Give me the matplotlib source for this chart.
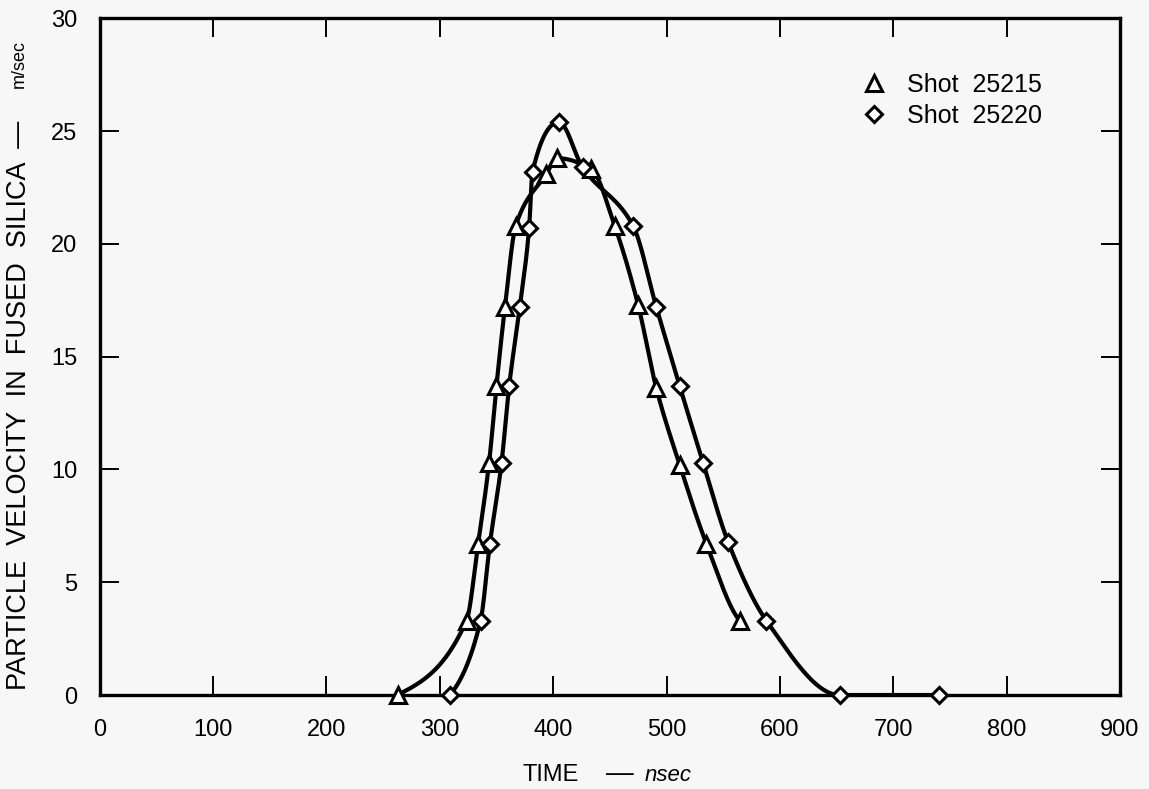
import numpy as np
import matplotlib
matplotlib.use("Agg")
import matplotlib.pyplot as plt
from matplotlib.lines import Line2D

# Shot 25215 (triangles)
t_25215 = [263, 323.6, 333.8, 343.5, 350, 357.5, 367, 394, 403.5, 433.8,
           454.3, 474.9, 491, 511.6, 535.2, 564.5]
v_25215 = [0, 3.3, 6.7, 10.3, 13.7, 17.2, 20.8, 23.1, 23.8, 23.3,
           20.8, 17.3, 13.6, 10.2, 6.7, 3.3]

# Shot 25220 (diamonds)
t_25220 = [309, 336, 344.2, 354.5, 361.2, 370.6, 378.8, 381.8, 405.2, 425.9,
           470.5, 491, 511.6, 532.2, 554.2, 588, 652.7, 740]
v_25220 = [0, 3.3, 6.7, 10.3, 13.7, 17.2, 20.7, 23.2, 25.4, 23.4,
           20.8, 17.2, 13.7, 10.3, 6.8, 3.3, 0, 0]

x_ticks = [0, 100, 200, 300, 400, 500, 600, 700, 800, 900]
y_ticks = [0, 5, 10, 15, 20, 25, 30]


def pchip(x, y, n=600):
    # monotone cubic (Fritsch-Carlson) just to draw a smooth line through the points
    x = np.asarray(x, float)
    y = np.asarray(y, float)
    h = np.diff(x)
    d = np.diff(y) / h
    m = np.zeros_like(y)
    for k in range(1, len(x) - 1):
        if d[k - 1] * d[k] > 0:
            w1 = 2 * h[k] + h[k - 1]
            w2 = h[k] + 2 * h[k - 1]
            m[k] = (w1 + w2) / (w1 / d[k - 1] + w2 / d[k])
    m[0] = d[0] * 0.5
    m[-1] = d[-1] * 0.5
    xs = np.linspace(x[0], x[-1], n)
    idx = np.clip(np.searchsorted(x, xs) - 1, 0, len(x) - 2)
    t = (xs - x[idx]) / h[idx]
    h00 = 2 * t**3 - 3 * t**2 + 1
    h10 = t**3 - 2 * t**2 + t
    h01 = -2 * t**3 + 3 * t**2
    h11 = t**3 - t**2
    ys = h00 * y[idx] + h10 * h[idx] * m[idx] + h01 * y[idx + 1] + h11 * h[idx] * m[idx + 1]
    return xs, ys


plt.rcParams['font.family'] = ['Liberation Sans', 'DejaVu Sans']
bg = '#f7f7f7'

fig = plt.figure(figsize=(11.49, 7.89), dpi=100, facecolor=bg)
ax = fig.add_axes([0.0867, 0.1191, 0.8881, 0.8577], facecolor=bg)

# curves
xs, ys = pchip(t_25215, v_25215)
ax.plot(xs, ys, color='black', lw=3.0, zorder=2, solid_capstyle='round')
xs, ys = pchip(t_25220, v_25220)
ax.plot(xs, ys, color='black', lw=3.0, zorder=2, solid_capstyle='round')

# markers
ax.plot(t_25215, v_25215, ls='none', marker='^', ms=12, mfc='white',
        mec='black', mew=2.2, zorder=3, clip_on=False)
ax.plot(t_25220, v_25220, ls='none', marker='D', ms=8, mfc='white',
        mec='black', mew=2.2, zorder=3, clip_on=False)

ax.set_xlim(0, 900)
ax.set_ylim(0, 30)
ax.set_xticks(x_ticks)
ax.set_yticks(y_ticks)
ax.tick_params(direction='in', length=14, width=1.4, top=True, right=True,
               labelsize=17, color='black')
ax.tick_params(axis='x', pad=17)
ax.tick_params(axis='y', pad=16)
for s in ax.spines.values():
    s.set_linewidth(2.4)

# axis titles
fig.text(0.455, 0.0101, 'TIME', fontsize=17, ha='left', va='baseline')
fig.text(0.527, 0.0101, '—', fontsize=20, ha='left', va='baseline')
fig.text(0.561, 0.0101, 'nsec', fontsize=16, style='italic', ha='left', va='baseline')

fig.text(0.0165, 0.1255, 'PARTICLE  VELOCITY  IN  FUSED  SILICA  —', rotation=90,
         fontsize=19.5, ha='center', va='bottom')
fig.text(0.0165, 0.949, 'm/sec', rotation=90, fontsize=13, ha='center', va='top')

handles = [
    Line2D([], [], ls='none', marker='^', ms=12, mfc='white', mec='black', mew=2.2),
    Line2D([], [], ls='none', marker='D', ms=8, mfc='white', mec='black', mew=2.2),
]
ax.legend(handles, ['Shot  25215', 'Shot  25220'], frameon=False, fontsize=18,
          loc='upper left', bbox_to_anchor=(0.7276, 0.953), handlelength=0.76,
          handletextpad=0.95, labelspacing=0.3)

fig.savefig('out.png', dpi=100, facecolor=bg)
